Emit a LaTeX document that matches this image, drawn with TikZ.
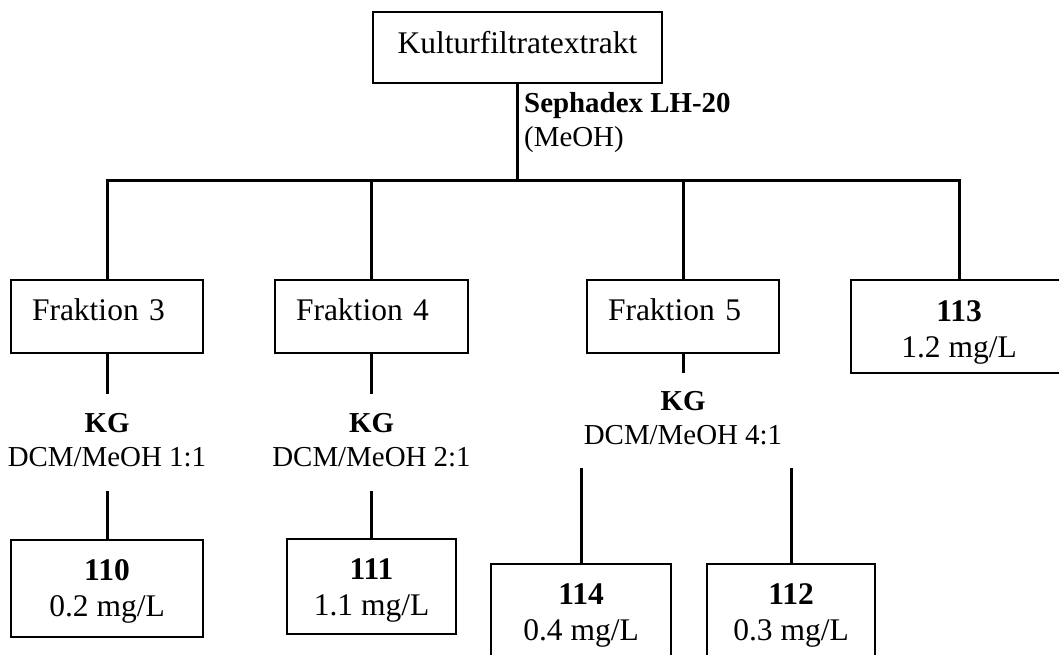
\documentclass[tikz,border=0pt]{standalone}
\usepackage{fontspec}
\setmainfont{Liberation Serif}
\usepackage{tikz}
\usetikzlibrary{positioning,calc}

\begin{document}
\begin{tikzpicture}
                    [
                        x=1pt, y=-1pt,
                        box/.style={draw, rectangle, line width=1.6pt, inner xsep=0pt, inner ysep=0pt, font=\fontsize{31.5}{36}\selectfont},
                        fraktion/.style={box, text width=150pt, inner xsep=21pt, align=left, text height=41pt, text depth=32pt, anchor=north},
                        ergebnis/.style={box, align=center, text height=77pt, text depth=20pt, anchor=north},
                        methode/.style={inner sep=0pt, align=center, font=\fontsize{28.9}{34}\selectfont, text height=72.5pt, text depth=25pt, anchor=north},
                        verbindung/.style={line width=3pt}
                    ]

                    % Rahmen
                    \useasboundingbox (0,0) rectangle (1059,654);

                    % Extrakt und Sephadex-Trennung
                    \node[box, minimum width=289pt, text height=42pt, text depth=29pt, anchor=north] (extrakt) at (517.5,11) {Kulturfiltratextrakt};
                    \coordinate (teilung) at (517.5,180);
                    \node[anchor=north west, inner sep=0pt, align=left, font=\fontsize{28.9}{34}\selectfont] (sephadex) at (524,92) {\textbf{Sephadex LH-20}\\(MeOH)};

                    % Fraktionen
                    \node[fraktion] (fr3) at (107,279) {Fraktion 3};
                    \node[fraktion, text width=151pt] (fr4) at (371.5,279) {Fraktion 4};
                    \node[fraktion] (fr5) at (683,279) {Fraktion 5};
                    \node[ergebnis, minimum width=216pt, text height=78pt, text depth=15pt] (p113) at (959,279) {\textbf{113}\\1.2 mg/L};

                    % Kieselgel
                    \node[methode] (kg3) at (107,393.5) {\textbf{KG}\\DCM/MeOH 1:1};
                    \node[methode] (kg4) at (371.5,393.5) {\textbf{KG}\\DCM/MeOH 2:1};
                    \node[methode, text height=71.5pt, text depth=24pt] (kg5) at (683,372.5) {\textbf{KG}\\DCM/MeOH 4:1};

                    % Reinsubstanzen
                    \node[ergebnis, minimum width=192pt] (p110) at (107,539) {\textbf{110}\\0.2 mg/L};
                    \node[ergebnis, minimum width=169pt, text depth=18pt] (p111) at (371.5,538) {\textbf{111}\\1.1 mg/L};
                    \node[ergebnis, minimum width=180pt] (p114) at (581,563) {\textbf{114}\\0.4 mg/L};
                    \node[ergebnis, minimum width=168pt] (p112) at (791,563) {\textbf{112}\\0.3 mg/L};

                    % Linien
                    \draw[verbindung] (extrakt) -- (teilung);
                    \draw[verbindung] (fr3) |- (teilung) -| (p113);
                    \draw[verbindung] (fr4) -- (fr4 |- teilung);
                    \draw[verbindung] (fr5) -- (fr5 |- teilung);
                    \draw[verbindung] (fr3) -- (kg3);
                    \draw[verbindung] (kg3) -- (p110);
                    \draw[verbindung] (fr4) -- (kg4);
                    \draw[verbindung] (kg4) -- (p111);
                    \draw[verbindung] (fr5) -- (kg5);
                    \draw[verbindung] (kg5.south -| p114) -- (p114);
                    \draw[verbindung] (kg5.south -| p112) -- (p112);
                \end{tikzpicture}
\end{document}
